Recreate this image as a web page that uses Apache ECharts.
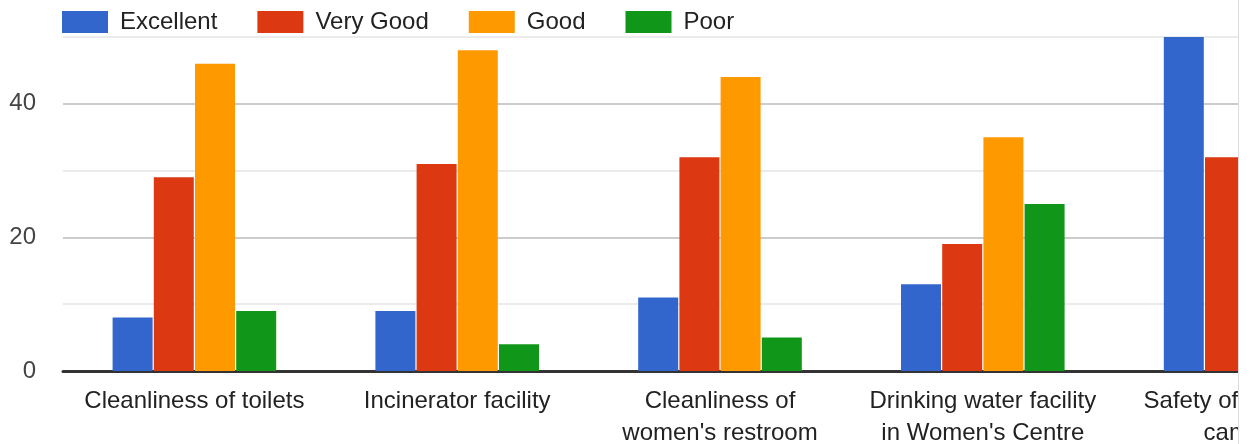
<!DOCTYPE html>
<html>
<head>
<meta charset="utf-8">
<script src="https://cdn.jsdelivr.net/npm/echarts@6/dist/echarts.min.js"></script>
<style>
  html, body { margin: 0; padding: 0; background: #fff; }
  #wrap { width: 1238px; height: 444px; border-right: 1px solid #dcdcdc; overflow: hidden; }
  #chart { width: 1238px; height: 444px; }
</style>
</head>
<body>
<div id="wrap"><div id="chart"></div></div>
<script>
const categories = [
  'Cleanliness of toilets',
  'Incinerator facility',
  'Cleanliness of\nwomen\'s restroom',
  'Drinking water facility\nin Women\'s Centre',
  'Safety of women in\ncampus'
]
const excellent = [8, 9, 11, 13, 50]
const veryGood = [29, 31, 32, 19, 32]
const good = [46, 48, 44, 35, 40]
const poor = [9, 4, 5, 25, 10]

const names = ['Excellent', 'Very Good', 'Good', 'Poor']
const colors = ['#3366cc', '#dc3912', '#ff9900', '#109618']
const values = [excellent, veryGood, good, poor]

const chart = echarts.init(document.getElementById('chart'))
const font = 'Liberation Sans, Arial, sans-serif'

const option = {
  animation: false,
  color: colors,
  legend: {
    left: 57,
    top: 5,
    icon: 'rect',
    itemWidth: 46,
    itemHeight: 22,
    itemGap: 40,
    data: names,
    textStyle: {
      fontSize: 24,
      fontFamily: font,
      color: '#222',
      padding: [0, 0, 0, 7]
    }
  },
  grid: {
    left: 63,
    top: 37,
    bottom: 73,
    width: 1314,
    outerBoundsMode: 'none'
  },
  xAxis: {
    type: 'category',
    data: categories,
    axisTick: { show: false },
    axisLine: { lineStyle: { color: '#333', width: 3 } },
    axisLabel: {
      interval: 0,
      margin: 14,
      fontSize: 24,
      lineHeight: 32,
      fontFamily: font,
      color: '#222'
    }
  },
  yAxis: {
    type: 'value',
    min: 0,
    max: 50,
    interval: 10,
    axisLine: { show: false },
    axisTick: { show: false },
    axisLabel: {
      margin: 27,
      fontSize: 24,
      fontFamily: font,
      color: '#444',
      formatter: v => (v % 20 === 0 ? v : '')
    },
    splitLine: {
      lineStyle: { color: ['#cccccc', '#ebebeb'], width: 2 }
    }
  },
  series: names.map((name, i) => ({
    name: name,
    type: 'bar',
    barWidth: 40,
    barGap: '3%',
    data: values[i]
  }))
}
chart.setOption(option)
</script>
</body>
</html>
